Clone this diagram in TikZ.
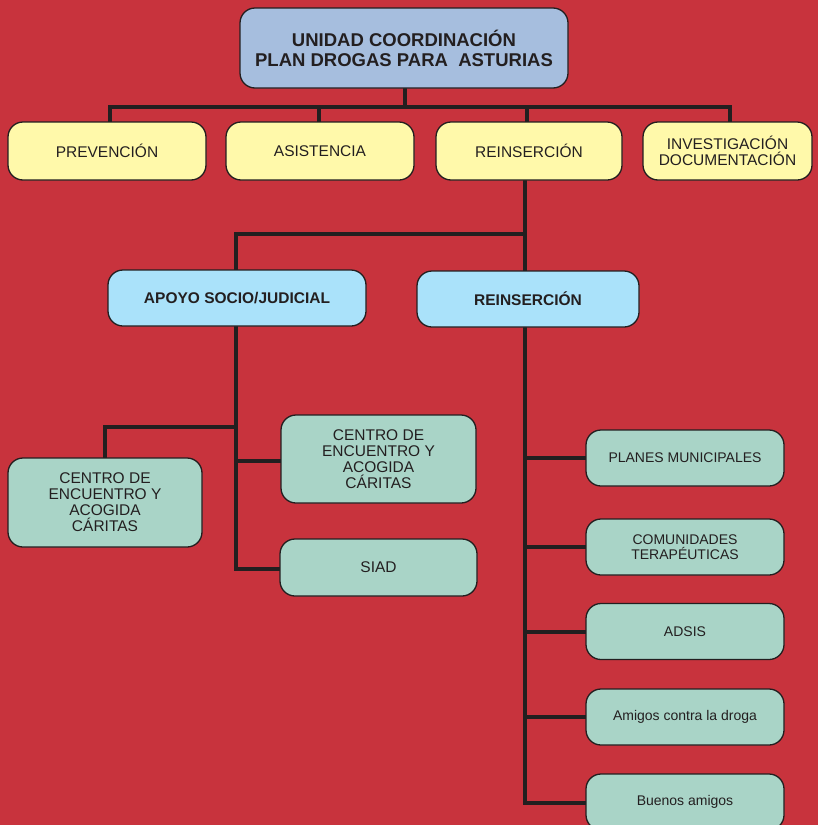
\documentclass[tikz,border=0pt]{standalone}
\usepackage{fontspec}
\setmainfont{Liberation Sans}
\definecolor{bgred}{RGB}{200,51,61}
\definecolor{topblue}{RGB}{166,190,222}
\definecolor{ybox}{RGB}{255,249,170}
\definecolor{lblue}{RGB}{170,226,250}
\definecolor{gbox}{RGB}{169,212,199}
\definecolor{ink}{RGB}{35,31,32}
\pgfdeclarelayer{bottom}
\pgfdeclarelayer{background}
\pgfsetlayers{bottom,background,main}
\tikzset{
  box/.style={draw=ink, line width=1.3pt, rounded corners=15pt, rectangle, inner sep=0pt,
     align=center, text=ink},
  topbox/.style={box, fill=topblue, minimum width=328pt, minimum height=80pt,
     font=\fontsize{18.5}{20}\selectfont\bfseries},
  ybx/.style={box, fill=ybox, minimum height=58pt, font=\fontsize{15.5}{16}\selectfont},
  bbx/.style={box, fill=lblue, minimum height=56pt, font=\fontsize{15.5}{16}\selectfont\bfseries},
  gl/.style={box, fill=gbox, font=\fontsize{15.5}{16}\selectfont},
  gr/.style={box, fill=gbox, minimum width=198pt, minimum height=56pt, font=\fontsize{14}{15}\selectfont},
  conn/.style={draw=ink, line width=4pt, line cap=rect}
}
\begin{document}
\begin{tikzpicture}[x=1pt,y=1pt]
\begin{pgfonlayer}{bottom}
\fill[bgred] (0,0) rectangle (818,-825);
\end{pgfonlayer}
\useasboundingbox (0,0) rectangle (818,-825);
\clip (0,0) rectangle (818,-825);

\node[topbox] (top) at (404,-48) {UNIDAD COORDINACIÓN\\PLAN DROGAS PARA\ \ ASTURIAS};

\node[ybx, minimum width=198pt] (prev) at (107,-151) {PREVENCIÓN};
\node[ybx, minimum width=188pt] (asis) at (320,-151) {ASISTENCIA};
\node[ybx, minimum width=186pt] (rein) at (529,-151) {REINSERCIÓN};
\node[ybx, minimum width=169pt] (inv) at (727.5,-151) {INVESTIGACIÓN\\DOCUMENTACIÓN};

\node[bbx, minimum width=258pt] (apoyo) at (237,-298) {APOYO SOCIO/JUDICIAL};
\node[bbx, minimum width=222pt] (rein2) at (528,-299) {REINSERCIÓN};

\node[gl, minimum width=194pt, minimum height=89pt] (cl) at (105,-502.5) {CENTRO DE\\ENCUENTRO Y\\ACOGIDA\\CÁRITAS};
\node[gl, minimum width=195pt, minimum height=88pt] (cr) at (378.5,-459) {CENTRO DE\\ENCUENTRO Y\\ACOGIDA\\CÁRITAS};
\node[gl, minimum width=197pt, minimum height=57pt] (siad) at (378.5,-567.5) {SIAD};

\node[gr] (pm) at (685,-458) {PLANES MUNICIPALES};
\node[gr] (ct) at (685,-547) {COMUNIDADES\\TERAPÉUTICAS};
\node[gr] (ad) at (685,-631.5) {ADSIS};
\node[gr] (am) at (685,-717) {Amigos contra la droga};
\node[gr] (ba) at (685,-802) {Buenos amigos};

\coordinate (h1) at (110,-107);
\coordinate (h2) at (319,-107);
\coordinate (h3) at (527,-107);
\coordinate (h4) at (730,-107);
\coordinate (topc) at (405,-107);
\coordinate (j1) at (236,-234);
\coordinate (j2) at (525,-234);
\coordinate (a1) at (236,-427);
\coordinate (a2) at (105,-427);
\coordinate (a3) at (236,-461);
\coordinate (a4) at (236,-569);
\coordinate (r1) at (525,-803);

\begin{pgfonlayer}{background}
\draw[conn] (top.south -| topc) -- (topc);
\draw[conn] (h1) -- (h4);
\draw[conn] (h1) -- (h1 |- prev.north);
\draw[conn] (h2) -- (h2 |- asis.north);
\draw[conn] (h3) -- (h3 |- rein.north);
\draw[conn] (h4) -- (h4 |- inv.north);
\draw[conn] (rein.south -| j2) -- (j2);
\draw[conn] (j1) -- (j2);
\draw[conn] (j1) -- (j1 |- apoyo.north);
\draw[conn] (j2) -- (j2 |- rein2.north);
\draw[conn] (apoyo.south -| a1) -- (a4);
\draw[conn] (a1) -- (a2) -- (a2 |- cl.north);
\draw[conn] (a3) -- (a3 -| cr.west);
\draw[conn] (a4) -- (a4 -| siad.west);
\draw[conn] (rein2.south -| r1) -- (r1);
\draw[conn] (r1 |- pm.west) -- (pm.west);
\draw[conn] (r1 |- ct.west) -- (ct.west);
\draw[conn] (r1 |- ad.west) -- (ad.west);
\draw[conn] (r1 |- am.west) -- (am.west);
\draw[conn] (r1) -- (r1 -| ba.west);
\end{pgfonlayer}
\end{tikzpicture}
\end{document}
